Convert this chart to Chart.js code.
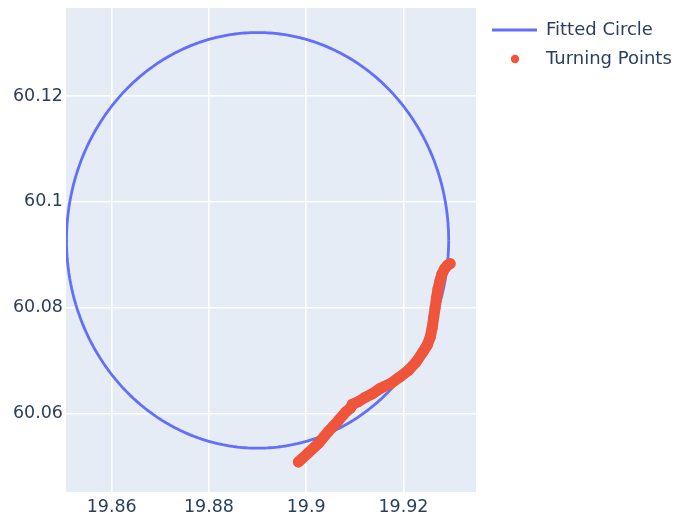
<!DOCTYPE html>
<html>
<head>
<meta charset="utf-8">
<script src="https://cdn.jsdelivr.net/npm/chart.js@4.4.1/dist/chart.umd.min.js"></script>
<style>
  html, body { margin: 0; padding: 0; background: #ffffff; }
  #wrap { width: 679px; height: 520px; position: relative; }
</style>
</head>
<body>
<div id="wrap"><canvas id="chart" width="679" height="520"></canvas></div>
<script>
// Fitted circle parameters (lon, lat degrees)
const circleCenterX = 19.8900;
const circleCenterY = 60.0927;
const circleRadius = 0.0393;

// Turning points along the track
const turnX = [19.8984, 19.9004, 19.9025, 19.9045, 19.9066, 19.9082, 19.9091, 19.9095,
               19.9107, 19.9121, 19.9136, 19.9152, 19.9173, 19.9193, 19.9210, 19.9226,
               19.9240, 19.9249, 19.9255, 19.9259, 19.9262, 19.9265, 19.9268, 19.9271,
               19.9275, 19.9279, 19.9285, 19.9291, 19.9296];
const turnY = [60.0508, 60.0525, 60.0543, 60.0565, 60.0586, 60.0603, 60.0610, 60.0617,
               60.0622, 60.0630, 60.0637, 60.0647, 60.0656, 60.0669, 60.0681, 60.0697,
               60.0716, 60.0729, 60.0744, 60.0761, 60.0780, 60.0799, 60.0818, 60.0835,
               60.0850, 60.0863, 60.0874, 60.0880, 60.0883];

// Axis ticks and ranges
const xTicks = [19.86, 19.88, 19.9, 19.92];
const yTicks = [60.06, 60.08, 60.1, 60.12];
const xRange = [19.8506, 19.93492];
const yRange = [60.04512, 60.13664];

const seriesNames = ['Fitted Circle', 'Turning Points'];
const colors = { circle: '#636EFA', points: '#EF553B', text: '#2a3f5f', plotBg: '#E5ECF6' };
const FONT = '"DejaVu Sans", Verdana, sans-serif';

// Trace the circle outline from its center and radius
const circlePts = [];
const steps = 240;
for (let i = 0; i <= steps; i++) {
  const a = (i / steps) * Math.PI * 2;
  circlePts.push({ x: circleCenterX + circleRadius * Math.cos(a), y: circleCenterY + circleRadius * Math.sin(a) });
}
const turnPts = turnX.map((x, i) => ({ x: x, y: turnY[i] }));

const plotBackground = {
  id: 'plotBackground',
  beforeDraw(chart) {
    const { ctx, chartArea: a } = chart;
    ctx.save();
    ctx.fillStyle = colors.plotBg;
    ctx.fillRect(a.left, a.top, a.right - a.left, a.bottom - a.top);
    ctx.restore();
  }
};

const sideLegend = {
  id: 'sideLegend',
  afterDraw(chart) {
    const ctx = chart.ctx;
    ctx.save();
    ctx.font = '18px ' + FONT;
    ctx.textBaseline = 'middle';
    ctx.textAlign = 'left';
    // line entry
    ctx.strokeStyle = colors.circle;
    ctx.lineWidth = 2.8;
    ctx.beginPath();
    ctx.moveTo(492, 30);
    ctx.lineTo(537, 30);
    ctx.stroke();
    ctx.fillStyle = colors.text;
    ctx.fillText(seriesNames[0], 546, 30);
    // marker entry
    ctx.fillStyle = colors.points;
    ctx.beginPath();
    ctx.arc(515, 59, 4.2, 0, Math.PI * 2);
    ctx.fill();
    ctx.fillStyle = colors.text;
    ctx.fillText(seriesNames[1], 546, 59);
    ctx.restore();
  }
};

new Chart(document.getElementById('chart'), {
  type: 'scatter',
  data: {
    datasets: [
      {
        label: seriesNames[0],
        data: circlePts,
        showLine: true,
        borderColor: colors.circle,
        borderWidth: 2.8,
        pointRadius: 0,
        // a tiny tension keeps the full path (no per-pixel column shortcut)
        tension: 0.0001,
        order: 1
      },
      {
        label: seriesNames[1],
        data: turnPts,
        showLine: true,
        borderColor: colors.points,
        backgroundColor: colors.points,
        borderWidth: 11,
        borderCapStyle: 'round',
        borderJoinStyle: 'round',
        tension: 0.0001,
        pointRadius: 5.5,
        pointBorderWidth: 0,
        pointHoverRadius: 5.5,
        order: 0
      }
    ]
  },
  options: {
    responsive: false,
    animation: false,
    layout: { padding: { top: 8, right: 203, left: 0, bottom: 0 } },
    plugins: { legend: { display: false }, tooltip: { enabled: false } },
    scales: {
      x: {
        type: 'linear',
        min: xRange[0],
        max: xRange[1],
        afterBuildTicks(scale) { scale.ticks = xTicks.map(v => ({ value: v })); },
        afterFit(scale) {
          scale.height = 28;
          scale.paddingLeft = 0;
          scale.paddingRight = 0;
        },
        ticks: {
          callback: v => String(v),
          font: { family: FONT, size: 17.5 },
          color: colors.text,
          padding: 5,
          maxRotation: 0
        },
        grid: { color: '#ffffff', lineWidth: 1.6, drawTicks: false },
        border: { display: false }
      },
      y: {
        type: 'linear',
        min: yRange[0],
        max: yRange[1],
        afterBuildTicks(scale) { scale.ticks = yTicks.map(v => ({ value: v })); },
        afterFit(scale) {
          scale.width = 66;
          scale.paddingTop = 0;
          scale.paddingBottom = 0;
        },
        ticks: {
          callback: v => String(v),
          font: { family: FONT, size: 17.5 },
          color: colors.text,
          padding: 3
        },
        grid: { color: '#ffffff', lineWidth: 1.6, drawTicks: false },
        border: { display: false }
      }
    }
  },
  plugins: [plotBackground, sideLegend]
});
</script>
</body>
</html>
